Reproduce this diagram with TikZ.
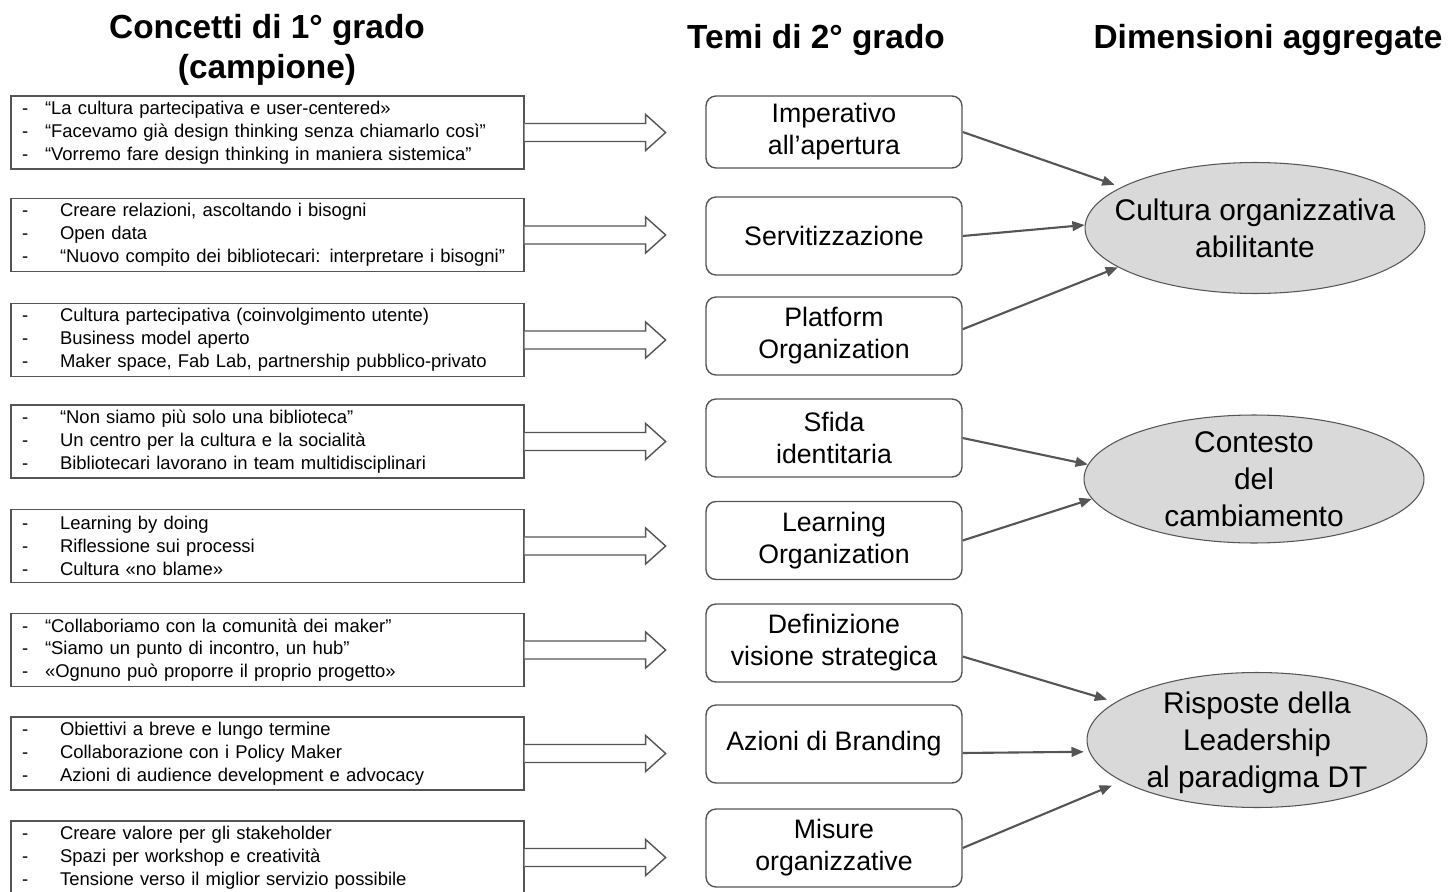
\documentclass[tikz,border=0pt]{standalone}
\usepackage{fontspec}
\setmainfont{Liberation Sans}
\usetikzlibrary{shapes.geometric,arrows.meta}
\definecolor{bordo}{HTML}{555555}
\definecolor{grigio}{HTML}{D9D9D9}
\newcommand{\trA}{\makebox[0.46cm][l]{-}}
\newcommand{\trB}{\makebox[0.76cm][l]{-}}

\begin{document}
\begin{tikzpicture}[x=0.02cm,y=-0.02cm,
    titolo/.style={font=\fontsize{19}{22.8}\selectfont\bfseries, align=center},
    concetto/.style={draw=bordo, line width=0.8pt, minimum height=1.46cm, inner xsep=0.22cm, inner ysep=0pt,
                     text width=9.82cm, align=left, font=\fontsize{10.5}{13}\selectfont},
    tema/.style={draw=bordo, line width=0.8pt, rounded corners=0.2cm, minimum width=5.12cm, minimum height=1.56cm,
                 align=center, font=\fontsize{15.2}{18.2}\selectfont},
    dimensione/.style={ellipse, draw=bordo, line width=0.6pt, fill=grigio, minimum width=6.8cm, inner sep=0pt},
    dimtesto/.style={align=center, font=\fontsize{17}{21}\selectfont},
    freccia/.style={draw=bordo, line width=0.8pt, fill=white, line join=miter},
    conn/.style={draw=bordo, line width=1.2pt, -{Triangle[length=7pt,width=5.5pt]}}]
                        \useasboundingbox (0,0) rectangle (1448,892);

                        % Titles
                        \node[titolo] (tit1) at (267,50) {Concetti di 1° grado\\(campione)};
                        \node[titolo] (tit2) at (816,40) {Temi di 2° grado};
                        \node[titolo] (tit3) at (1268,40) {Dimensioni aggregate};

                        % First order concepts
                        \node[concetto] (c1) at (267.5,132.5) {\trA“La cultura partecipativa e user-centered»\\\trA“Facevamo già design thinking senza chiamarlo così”\\\trA“Vorremo fare design thinking in maniera sistemica”};
                        \node[concetto] (c2) at (267.5,235) {\trB Creare relazioni, ascoltando i bisogni\\\trB Open data\\\trB“Nuovo compito dei bibliotecari: interpretare i bisogni”};
                        \node[concetto] (c3) at (267.5,340) {\trB Cultura partecipativa (coinvolgimento utente)\\\trB Business model aperto\\\trB Maker space, Fab Lab, partnership pubblico-privato};
                        \node[concetto] (c4) at (267.5,441.5) {\trB“Non siamo più solo una biblioteca”\\\trB Un centro per la cultura e la socialità\\\trB Bibliotecari lavorano in team multidisciplinari};
                        \node[concetto] (c5) at (267.5,546) {\trB Learning by doing\\\trB Riflessione sui processi\\\trB Cultura «no blame»};
                        \node[concetto] (c6) at (267.5,650) {\trA“Collaboriamo con la comunità dei maker”\\\trA“Siamo un punto di incontro, un hub”\\\trA«Ognuno può proporre il proprio progetto»};
                        \node[concetto] (c7) at (267.5,753.5) {\trB Obiettivi a breve e lungo termine\\\trB Collaborazione con i Policy Maker\\\trB Azioni di audience development e advocacy};
                        \node[concetto] (c8) at (267.5,857.5) {\trB Creare valore per gli stakeholder\\\trB Spazi per workshop e creatività\\\trB Tensione verso il miglior servizio possibile};

                        % Second order themes
                        \node[tema, minimum height=1.44cm] (imperativo) at (834,132) {Imperativo\\all’apertura};
                        \node[tema] (servitizzazione) at (834,236) {Servitizzazione};
                        \node[tema] (platform) at (834,336) {Platform\\Organization};
                        \node[tema] (sfida) at (834,438) {Sfida\\identitaria};
                        \node[tema] (learning) at (834,540.5) {Learning\\Organization};
                        \node[tema] (visione) at (834,643) {Definizione\\visione strategica};
                        \node[tema] (branding) at (834,744) {Azioni di Branding};
                        \node[tema] (misure) at (834,848) {Misure\\organizzative};

                        % Aggregate dimensions
                        \node[dimensione, minimum height=2.62cm] (cultura) at (1255,228) {};
                        \node[dimensione, minimum height=2.56cm] (contesto) at (1254,479) {};
                        \node[dimensione, minimum height=2.7cm] (risposte) at (1257,740) {};
                        \node[dimtesto] (tcultura) at (cultura) {Cultura organizzativa\\abilitante};
                        \node[dimtesto] (tcontesto) at (contesto) {Contesto\\del\\cambiamento};
                        \node[dimtesto] (trisposte) at ([yshift=-1.5]risposte.center) {Risposte della\\Leadership\\al paradigma DT};

                        % Block arrows
                        \foreach \c in {c1,c2,c3,c4,c5,c6,c7,c8}
                            \draw[freccia] (\c.east) ++(0,-9) -- ++(121,0) -- ++(0,-9) -- ++(20,18) -- ++(-20,18) -- ++(0,-9) -- ++(-121,0);

                        % Edges
                        \draw[conn, shorten >=4pt] (imperativo.east) -- (cultura.163);
                        \draw[conn] (servitizzazione.east) -- (cultura.179);
                        \draw[conn] (platform.3) -- (cultura.196);

                        \draw[conn] (sfida.east) -- (contesto.175);
                        \draw[conn] (learning.east) -- (contesto.187);

                        \draw[conn, shorten >=5pt] (visione.-6) -- (risposte.165);
                        \draw[conn, shorten >=3pt] (branding.-4) -- (risposte.184);
                        \draw[conn, shorten >=6pt] (misure.east) -- (risposte.197);
                    \end{tikzpicture}
\end{document}
